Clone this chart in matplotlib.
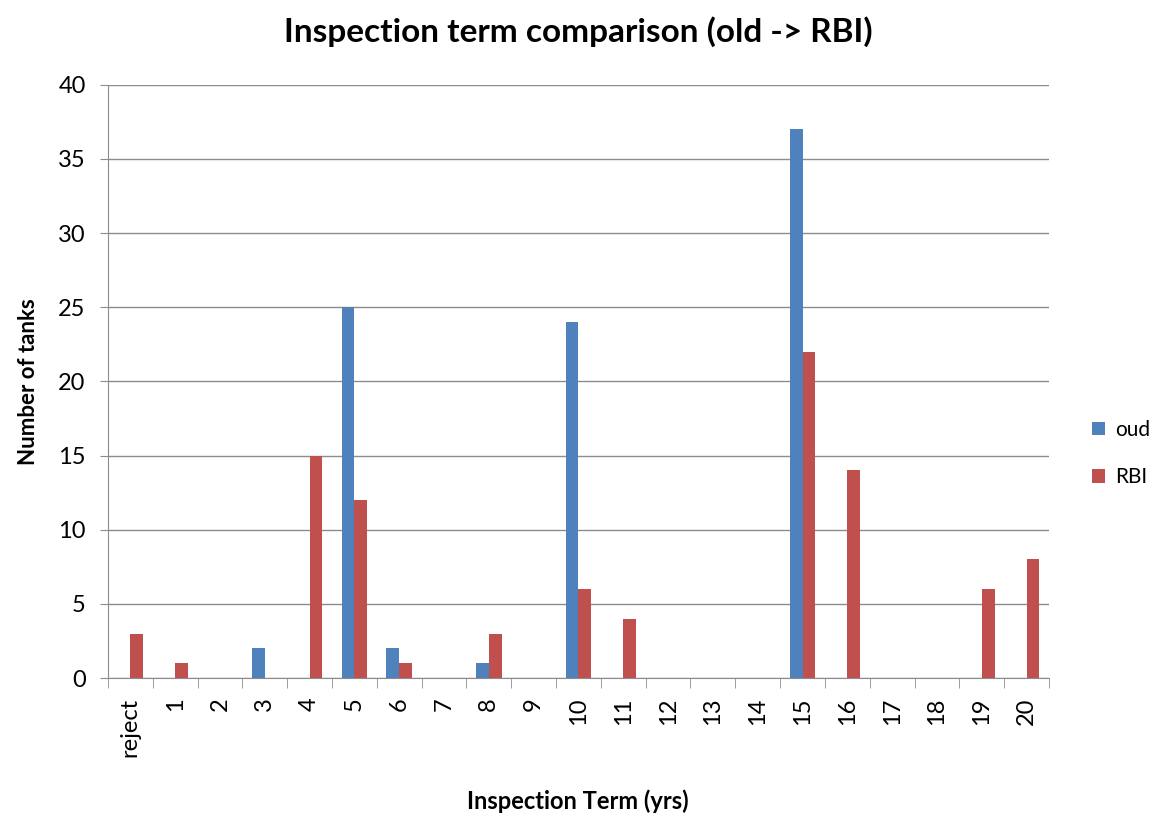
import numpy as np
import matplotlib.pyplot as plt

plt.rcParams['font.family'] = ['Lato', 'DejaVu Sans']

categories = ['reject', '1', '2', '3', '4', '5', '6', '7', '8', '9', '10',
              '11', '12', '13', '14', '15', '16', '17', '18', '19', '20']
oud = [0, 0, 0, 2, 0, 25, 2, 0, 1, 0, 24, 0, 0, 0, 0, 37, 0, 0, 0, 0, 0]
rbi = [3, 1, 0, 0, 15, 12, 1, 0, 3, 0, 6, 4, 0, 0, 0, 22, 14, 0, 0, 6, 8]

fig = plt.figure(figsize=(11.56, 8.14), dpi=100)
ax = fig.add_axes([0.0934, 0.167, 0.814, 0.729])

x = np.arange(len(categories))
w = 1 / 3.5
ax.bar(x - w / 2, oud, w, color='#4F81BD', label='oud')
ax.bar(x + w / 2, rbi, w, color='#C0504D', label='RBI')

ax.set_xlim(-0.5, len(categories) - 0.5)
ax.set_ylim(0, 40)
ax.set_yticks(range(0, 41, 5))
ax.yaxis.grid(True, color='#8c8c8c', linewidth=1)
ax.set_axisbelow(True)

ax.set_xticks(x)
ax.set_xticklabels(categories, rotation=90, fontsize=17)
ax.set_xticks(np.arange(-0.5, len(categories)), minor=True)
ax.tick_params(axis='x', which='major', length=0, pad=14)
ax.tick_params(axis='x', which='minor', length=7, color='#8c8c8c')
ax.tick_params(axis='y', labelsize=17, length=6, color='#8c8c8c', pad=10)

for s in ['top', 'right']:
    ax.spines[s].set_visible(False)
for s in ['left', 'bottom']:
    ax.spines[s].set_color('#8c8c8c')

ax.set_ylabel('Number of tanks', fontsize=16, fontweight='bold', labelpad=14)
fig.text(0.5, 0.006, 'Inspection Term (yrs)', ha='center', fontsize=17, fontweight='bold')
fig.suptitle('Inspection term comparison (old -> RBI)', y=0.98, fontsize=24, fontweight='bold')

ax.legend(loc='center left', bbox_to_anchor=(1.037, 0.378), frameon=False,
          fontsize=15, handlelength=0.6, handleheight=0.6, labelspacing=1.3,
          handletextpad=0.5, borderaxespad=0)

plt.savefig('out.png')
